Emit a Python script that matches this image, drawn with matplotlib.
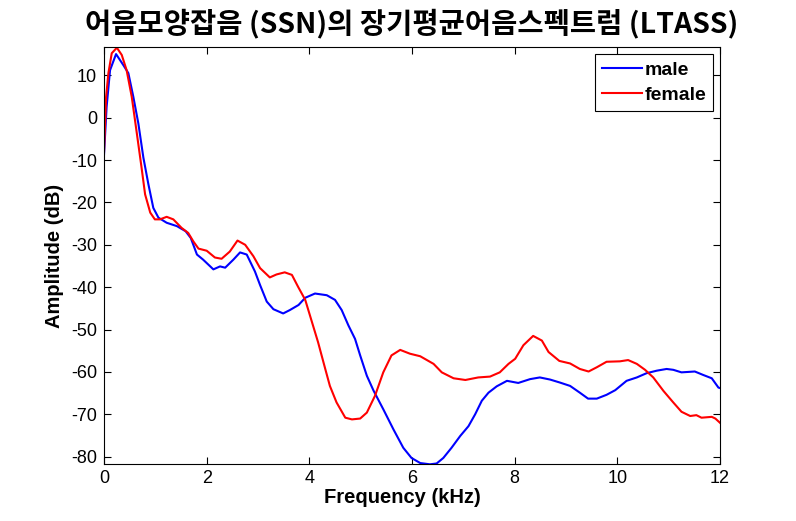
import numpy as np
import matplotlib
matplotlib.use('Agg')
import matplotlib.pyplot as plt

# Long-term average speech spectrum
male_freq = [0.0, 0.05, 0.117, 0.234, 0.376, 0.474, 0.571, 0.669, 0.766, 0.864, 0.96,
             1.06, 1.22, 1.42, 1.59, 1.69, 1.81, 1.93, 2.13, 2.26, 2.36, 2.52, 2.65,
             2.78, 2.94, 3.04, 3.17, 3.30, 3.49, 3.62, 3.79, 3.92, 4.11, 4.34, 4.50,
             4.63, 4.76, 4.89, 4.99, 5.12, 5.25, 5.44, 5.64, 5.83, 5.99, 6.16, 6.35,
             6.48, 6.61, 6.77, 6.94, 7.10, 7.23, 7.36, 7.49, 7.65, 7.85, 8.07, 8.30,
             8.49, 8.69, 8.88, 9.08, 9.27, 9.43, 9.60, 9.79, 9.96, 10.18, 10.38, 10.57,
             10.77, 10.96, 11.09, 11.25, 11.51, 11.67, 11.84, 11.97, 12.0]
male_db = [-8.6, 2.5, 11.2, 15.0, 12.4, 10.5, 4.9, -1.4, -9.4, -15.7, -21.3,
           -23.6, -24.8, -25.6, -26.8, -28.4, -32.3, -33.5, -35.8, -35.1, -35.4, -33.5, -31.8,
           -32.3, -36.3, -39.5, -43.4, -45.2, -46.2, -45.4, -44.2, -42.5, -41.5, -41.9, -43.0,
           -45.4, -49.0, -52.2, -56.1, -60.9, -64.4, -68.8, -73.6, -77.9, -80.3, -81.5, -81.8,
           -81.6, -80.3, -77.9, -75.1, -72.8, -70.0, -66.8, -64.9, -63.4, -62.1, -62.6, -61.7,
           -61.3, -61.8, -62.5, -63.3, -64.9, -66.3, -66.3, -65.4, -64.3, -62.1, -61.3, -60.3,
           -59.7, -59.3, -59.5, -60.1, -59.9, -60.7, -61.5, -63.7, -63.8]

female_freq = [0.0, 0.04, 0.085, 0.15, 0.25, 0.345, 0.44, 0.54, 0.64, 0.73, 0.80, 0.90,
               0.99, 1.09, 1.22, 1.35, 1.51, 1.64, 1.74, 1.84, 2.00, 2.16, 2.29, 2.45,
               2.60, 2.75, 2.91, 3.04, 3.23, 3.36, 3.52, 3.66, 3.78, 3.92, 4.05, 4.17,
               4.31, 4.40, 4.53, 4.70, 4.83, 4.99, 5.12, 5.28, 5.44, 5.60, 5.77, 5.96,
               6.16, 6.42, 6.58, 6.81, 7.04, 7.29, 7.52, 7.71, 7.88, 8.01, 8.17, 8.36,
               8.53, 8.66, 8.87, 9.08, 9.27, 9.44, 9.60, 9.79, 10.05, 10.21, 10.38, 10.54,
               10.70, 10.90, 11.09, 11.25, 11.42, 11.54, 11.64, 11.84, 11.91, 12.0]
female_db = [-8.0, 4.9, 10.5, 15.2, 16.5, 14.8, 11.2, 4.9, -3.8, -11.7, -18.1, -22.4,
             -24.0, -24.0, -23.4, -24.0, -26.0, -27.2, -29.2, -30.9, -31.4, -33.0, -33.3, -31.6,
             -29.0, -30.0, -32.7, -35.5, -37.7, -37.0, -36.5, -37.1, -39.9, -43.0, -48.2, -53.0,
             -59.3, -63.3, -67.2, -70.8, -71.2, -71.0, -69.6, -65.6, -60.1, -56.1, -54.8, -55.7,
             -56.3, -58.1, -60.1, -61.5, -61.9, -61.3, -61.1, -60.1, -58.1, -56.9, -53.7, -51.5,
             -52.6, -55.3, -57.4, -58.0, -59.3, -59.9, -58.9, -57.6, -57.5, -57.2, -58.1, -59.5,
             -61.3, -64.5, -67.2, -69.4, -70.4, -70.2, -70.8, -70.6, -71.0, -72.0]

plt.rcParams['font.family'] = ['Liberation Sans', 'DejaVu Sans']
plt.rcParams['axes.unicode_minus'] = False

fig = plt.figure(figsize=(7.96, 5.21), dpi=100)
ax = fig.add_axes([0.1307, 0.1088, 0.7738, 0.8004])

ax.plot(male_freq, male_db, c='#0000ff', lw=1.5, label='male')
ax.plot(female_freq, female_db, c='#ff0000', lw=1.5, label='female')

ax.set_xlim(0, 12)
ax.set_ylim(-81.8, 16.6)
ax.set_xticks(np.arange(0, 13, 2))
ax.set_yticks(np.arange(-80, 11, 10))
ax.tick_params(direction='in', top=True, right=True, length=5, labelsize=13, pad=4)
ax.tick_params(axis='y', pad=5)

ax.set_xlabel('Frequency (kHz)', fontsize=14.5, fontweight='bold')
ax.xaxis.set_label_coords(0.484, -0.057, transform=ax.transAxes)
ax.xaxis.label.set_va('top')
ax.set_ylabel('Amplitude (dB)', fontsize=14.5, fontweight='bold', labelpad=5)
ax.set_title('어음모양잡음 (SSN)의 장기평균어음스펙트럼 (LTASS)', fontsize=20.5, fontweight='bold',
             family=['Noto Sans CJK KR', 'DejaVu Sans'], pad=11)

leg = ax.legend(loc='upper right', fancybox=False, framealpha=1, edgecolor='black',
                prop={'weight': 'bold', 'size': 14}, handlelength=2.05, handletextpad=0.15,
                borderaxespad=0.36, borderpad=0.35, labelspacing=0.38)
leg.get_frame().set_linewidth(0.8)

fig.savefig('out.png', dpi=100)
